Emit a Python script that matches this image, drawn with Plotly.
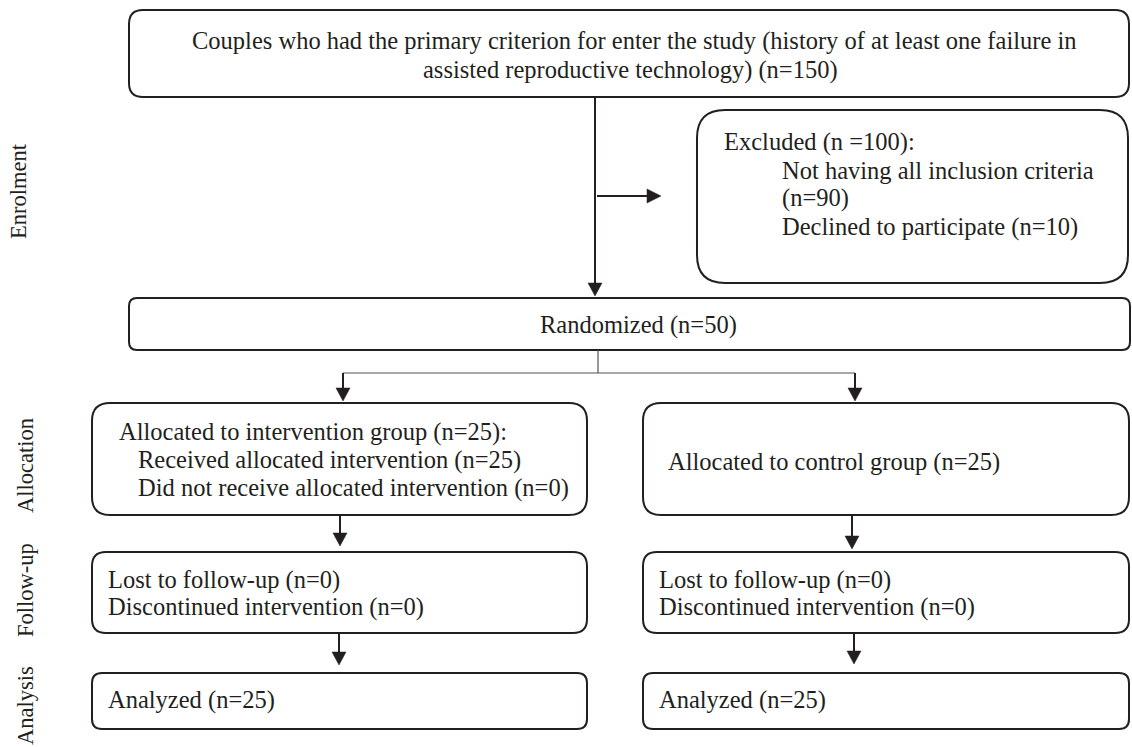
import plotly.graph_objects as go

# ---- content (texts / counts) ----
stage_labels = ["Enrolment", "Allocation", "Follow-up", "Analysis"]
n_total = 150
n_excluded = 100
n_not_criteria = 90
n_declined = 10
n_randomized = 50
n_intervention = 25
n_received = 25
n_not_received = 0
n_control = 25
n_lost = [0, 0]
n_discontinued = [0, 0]
n_analyzed = [25, 25]

top_lines = [
    "Couples who had the primary criterion for enter the study (history of at least one failure in",
    f"assisted reproductive technology) (n={n_total})",
]
excluded_lines = [
    f"Excluded (n ={n_excluded}):",
    "Not having all inclusion criteria",
    f"(n={n_not_criteria})",
    f"Declined to participate (n={n_declined})",
]
randomized_text = f"Randomized (n={n_randomized})"
interv_lines = [
    f"Allocated to intervention group (n={n_intervention}):",
    f"Received allocated intervention (n={n_received})",
    f"Did not receive allocated intervention (n={n_not_received})",
]
control_text = f"Allocated to control group (n={n_control})"
followup_lines = [[f"Lost to follow-up (n={n_lost[i]})",
                   f"Discontinued intervention (n={n_discontinued[i]})"] for i in range(2)]
analysis_texts = [f"Analyzed (n={n_analyzed[i]})" for i in range(2)]

# ---- layout geometry ----
W, H = 1132, 747
FONT = "Liberation Serif"
FS = 24.5
FS_LAB = 22.5
TXT = "#231f20"
LINE = "#231f20"

fig = go.Figure()
shapes = []
annots = []


def rbox(x0, y0, x1, y1, r, lw=2):
    p = (f"M {x0+r},{y0} L {x1-r},{y0} Q {x1},{y0} {x1},{y0+r} "
         f"L {x1},{y1-r} Q {x1},{y1} {x1-r},{y1} L {x0+r},{y1} "
         f"Q {x0},{y1} {x0},{y1-r} L {x0},{y0+r} Q {x0},{y0} {x0+r},{y0} Z")
    shapes.append(dict(type="path", path=p, xref="x", yref="y",
                       line=dict(color=LINE, width=lw), fillcolor="rgba(0,0,0,0)"))


def line(x0, y0, x1, y1, lw=2, color=LINE):
    shapes.append(dict(type="line", x0=x0, y0=y0, x1=x1, y1=y1, xref="x", yref="y",
                       line=dict(color=color, width=lw)))


def head_down(x, ytip, w=7, h=13):
    p = f"M {x-w},{ytip-h} L {x+w},{ytip-h} L {x},{ytip} Z"
    shapes.append(dict(type="path", path=p, xref="x", yref="y",
                       line=dict(color=LINE, width=0.5), fillcolor=LINE))


def head_right(xtip, y, w=7, h=14):
    p = f"M {xtip-h},{y-w} L {xtip-h},{y+w} L {xtip},{y} Z"
    shapes.append(dict(type="path", path=p, xref="x", yref="y",
                       line=dict(color=LINE, width=0.5), fillcolor=LINE))


def text(x, y, s, anchor="left", size=FS, angle=0):
    annots.append(dict(x=x, y=y, text=s, showarrow=False, xref="x", yref="y",
                       xanchor=anchor, yanchor="middle", textangle=angle,
                       font=dict(family=FONT, size=size, color=TXT)))


# boxes
rbox(129, 10, 1129, 97, 14)
rbox(697, 110, 1128, 283, 28)
rbox(129, 298, 1130, 350, 8)
rbox(92, 403, 587, 515, 18)
rbox(643, 403, 1129, 515, 18)
rbox(92, 552, 587, 633, 14)
rbox(643, 552, 1129, 633, 14)
rbox(92, 673, 587, 729, 10)
rbox(643, 673, 1129, 729, 10)

# connectors
line(595, 97, 595, 284)
head_down(595, 296)
line(597, 196, 648, 196)
head_right(661, 196)
line(598, 350, 598, 373, lw=1.2, color="#555")
line(343, 373, 855, 373, lw=1.2, color="#555")
line(343, 373, 343, 389)
head_down(343, 401)
line(855, 373, 855, 389)
head_down(855, 401)
line(340, 515, 340, 533)
head_down(340, 546)
line(852, 515, 852, 536)
head_down(852, 549)
line(339, 633, 339, 652)
head_down(339, 665)
line(854, 633, 854, 651)
head_down(854, 664)

# texts
text(634, 41, top_lines[0], anchor="center")
text(630, 70, top_lines[1], anchor="center")
text(722, 142, excluded_lines[0])
text(780, 170, excluded_lines[1])
text(780, 198, excluded_lines[2])
text(780, 227, excluded_lines[3])
text(638, 325, randomized_text, anchor="center")
text(117, 432, interv_lines[0])
text(136, 460, interv_lines[1])
text(136, 488, interv_lines[2])
text(666, 462, control_text)
for i, x in enumerate([106, 657]):
    text(x, 580, followup_lines[i][0])
    text(x, 607, followup_lines[i][1])
    text(x, 700, analysis_texts[i])

for lab, xc, yc in zip(stage_labels, [18, 25, 25, 25], [191, 466, 590, 706]):
    text(xc, yc, lab, anchor="center", size=FS_LAB, angle=-90)

fig.update_layout(
    width=W, height=H, margin=dict(l=0, r=0, t=0, b=0),
    paper_bgcolor="white", plot_bgcolor="white",
    xaxis=dict(range=[0, W], visible=False, fixedrange=True),
    yaxis=dict(range=[H, 0], visible=False, fixedrange=True),
    shapes=shapes, annotations=annots, showlegend=False,
)
fig.write_html(
    "out.html",
    config={"displayModeBar": False},
    post_script="document.body.style.margin='0';document.body.style.overflow='hidden';",
)
